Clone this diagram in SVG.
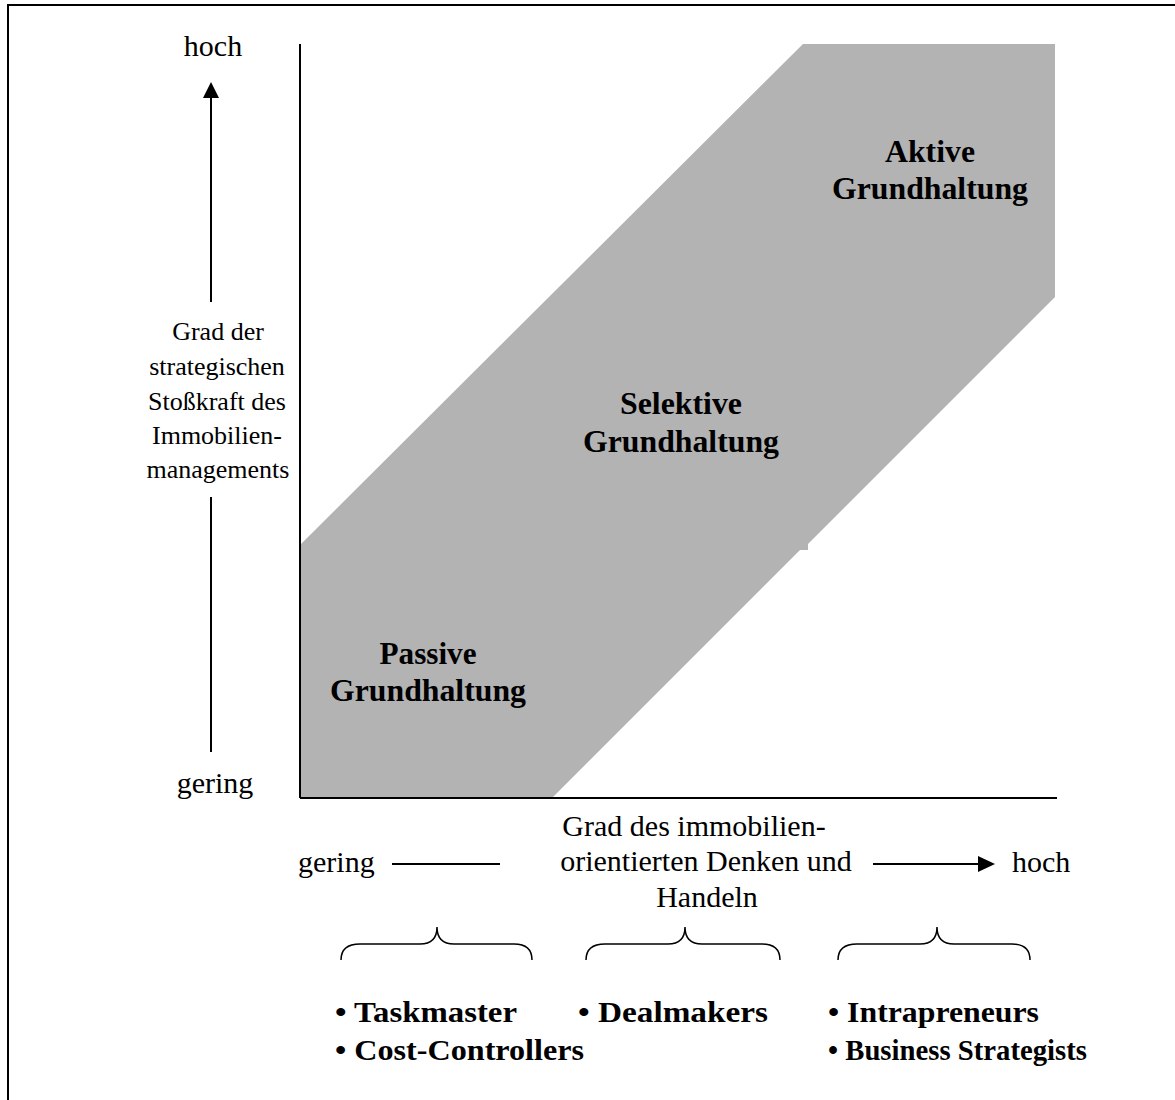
<svg xmlns="http://www.w3.org/2000/svg" width="1175" height="1100" viewBox="0 0 1175 1100">
<style>
text{font-family:"Liberation Serif","Times New Roman",serif;fill:#000}
.r{font-size:26px}
.rl{font-size:30px}
.b{font-size:32px;font-weight:bold}
.bl{font-size:30px;font-weight:bold}
.m{text-anchor:middle}
.ln{stroke:#000;stroke-width:2;fill:none}
.br{stroke:#000;stroke-width:1.5;fill:none}
</style>
<rect x="0" y="0" width="1175" height="1100" fill="#fff"/>
<path d="M8,1100 L8,5 L1175,5" class="ln"/>
<g id="band">
<polygon points="300,545 803,44 1055,44 1055,297 808,544 808,550 800,550 553,797 300,797" fill="#b3b3b3"/>
</g>
<g id="axes">
<line x1="300" y1="44" x2="300" y2="798" class="ln"/>
<line x1="300" y1="798" x2="1057" y2="798" class="ln"/>
</g>
<g id="connectors">
<line x1="211" y1="752" x2="211" y2="497" class="ln"/>
<path d="M211,302 L211,96" class="ln"/>
<polygon points="203,98 219,98 211,82" fill="#000"/>
<line x1="392" y1="864" x2="500" y2="864" class="ln"/>
<line x1="873" y1="864" x2="980" y2="864" class="ln"/>
<polygon points="978,856 978,872 995,864" fill="#000"/>
</g>
<g id="y-labels">
<text class="rl m" x="213" y="56">hoch</text>
<text class="r m" x="218" y="340">Grad der</text>
<text class="r m" x="217" y="375">strategischen</text>
<text class="r m" x="217" y="410">Stoßkraft des</text>
<text class="r m" x="217" y="444">Immobilien-</text>
<text class="r m" x="218" y="478">managements</text>
<text class="rl m" x="215" y="793">gering</text>
</g>
<g id="x-labels">
<text class="rl" x="298" y="872">gering</text>
<text class="rl m" x="694" y="836">Grad des immobilien-</text>
<text class="rl m" x="706" y="871">orientierten Denken und</text>
<text class="rl m" x="707" y="907">Handeln</text>
<text class="rl" x="1012" y="872">hoch</text>
</g>
<g id="node-aktiv">
<text class="b m" x="930" y="162" textLength="90" lengthAdjust="spacingAndGlyphs">Aktive</text>
<text class="b m" x="930" y="199" textLength="196" lengthAdjust="spacingAndGlyphs">Grundhaltung</text>
</g>
<g id="node-selektiv">
<text class="b m" x="681" y="414" textLength="122" lengthAdjust="spacingAndGlyphs">Selektive</text>
<text class="b m" x="681" y="452" textLength="196" lengthAdjust="spacingAndGlyphs">Grundhaltung</text>
</g>
<g id="node-passiv">
<text class="b m" x="428" y="664" textLength="97" lengthAdjust="spacingAndGlyphs">Passive</text>
<text class="b m" x="428" y="701" textLength="196" lengthAdjust="spacingAndGlyphs">Grundhaltung</text>
</g>
<g id="braces">
<path class="br" d="M341,960 Q341,944 360,944 L420,944 Q437,944 437,927 Q437,944 454,944 L514,944 Q532,944 532,960"/>
<path class="br" d="M586,960 Q586,944 605,944 L668,944 Q685,944 685,927 Q685,944 702,944 L762,944 Q780,944 780,960"/>
<path class="br" d="M838,960 Q838,944 857,944 L920,944 Q937,944 937,927 Q937,944 954,944 L1012,944 Q1030,944 1030,960"/>
</g>
<g id="group-passiv">
<text class="bl" x="335" y="1022" textLength="182" lengthAdjust="spacingAndGlyphs">• Taskmaster</text>
<text class="bl" x="335" y="1060" textLength="249" lengthAdjust="spacingAndGlyphs">• Cost-Controllers</text>
</g>
<g id="group-selektiv">
<text class="bl" x="578" y="1022" textLength="190" lengthAdjust="spacingAndGlyphs">• Dealmakers</text>
</g>
<g id="group-aktiv">
<text class="bl" x="828" y="1022" textLength="211" lengthAdjust="spacingAndGlyphs">• Intrapreneurs</text>
<text class="bl" x="828" y="1060" textLength="259" lengthAdjust="spacingAndGlyphs">• Business Strategists</text>
</g>
</svg>
